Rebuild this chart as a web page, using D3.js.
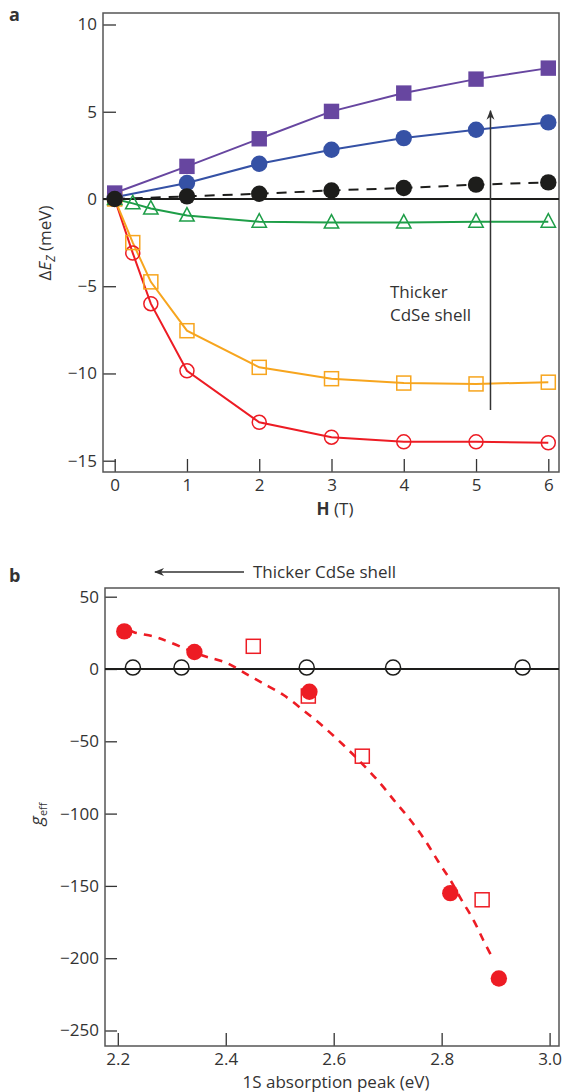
<!DOCTYPE html>
<html>
<head>
<meta charset="utf-8">
<script src="https://cdn.jsdelivr.net/npm/d3@7"></script>
<style>
  body { margin: 0; background: #fff; }
  text { font-family: "Open Sans", "Noto Sans", sans-serif; fill: #333; }
</style>
</head>
<body>
<div id="chart"></div>
<script>
// ---- panel a data: Zeeman splitting vs field
var fieldT = [0, 1, 2, 3, 4, 5, 6];
var purpleSq = [0.34, 1.87, 3.45, 5.02, 6.07, 6.87, 7.5];
var blueCirc = [0.1, 0.92, 2.02, 2.82, 3.49, 3.97, 4.39];
var blackCirc = [0, 0.15, 0.3, 0.49, 0.63, 0.82, 0.95];
var fieldFine = [0, 0.25, 0.5, 1, 2, 3, 4, 5, 6];
var greenTri = [0, -0.25, -0.55, -0.95, -1.3, -1.35, -1.35, -1.3, -1.3];
var orangeSq = [0, -2.5, -4.75, -7.55, -9.65, -10.3, -10.55, -10.6, -10.5];
var redCirc = [0, -3.1, -6.0, -9.85, -12.8, -13.65, -13.92, -13.92, -13.97];
var ticksA_x = [0, 1, 2, 3, 4, 5, 6];
var ticksA_y = [-15, -10, -5, 0, 5, 10];

// ---- panel b data: g_eff vs 1S absorption peak
var peakOpen = [2.228, 2.318, 2.550, 2.710, 2.950];
var gOpen = [1, 1, 1, 1, 1];
var peakFilled = [2.212, 2.342, 2.555, 2.816, 2.906];
var gFilled = [26, 11.8, -15.7, -155, -214];
var peakSquare = [2.451, 2.553, 2.653, 2.875];
var gSquare = [15.7, -18.7, -60.3, -159.6];
var peakFit = [2.222, 2.230, 2.268, 2.295, 2.354, 2.402, 2.441, 2.468, 2.507, 2.547, 2.581, 2.618, 2.652, 2.686, 2.714, 2.742, 2.769, 2.794, 2.816, 2.837, 2.859, 2.877, 2.893];
var gFit = [27, 25.4, 22.3, 18.7, 9.7, 4.1, -4.1, -9.7, -18, -29.5, -39.9, -52.6, -65.2, -79, -91.8, -104.4, -118.3, -133.3, -145.9, -159.8, -173.6, -187.4, -199];
var ticksB_x = [2.2, 2.4, 2.6, 2.8, 3.0];
var ticksB_y = [-250, -200, -150, -100, -50, 0, 50];

var colors = {purple: "#6746a0", blue: "#3551a5", black: "#1d1d1b", green: "#1e9e48", orange: "#f7a51e", red: "#ed1c24"};
var fs = "17px";

var svg = d3.select("#chart").append("svg")
    .attr("width", 563)
    .attr("height", 1092);

function pts(xs, ys) { return xs.map(function (d, i) { return [d, ys[i]]; }); }
function minus(d) { return d < 0 ? "\u2212" + Math.abs(d) : d; }

// ================= panel a =================
var frameA = {left: 103, right: 559, top: 13, bottom: 472};
var xA = d3.scaleLinear().domain([0, 6]).range([114.7, 548.3]);
var yA = d3.scaleLinear().domain([-15, 10]).range([460.7, 24.5]);

var gA = svg.append("g");

gA.append("g")
    .attr("transform", "translate(" + frameA.left + ",0)")
    .call(d3.axisLeft(yA).tickValues(ticksA_y).tickSize(-13).tickPadding(6).tickFormat(minus))
    .call(function (g) { g.select(".domain").remove(); });
gA.append("g")
    .attr("transform", "translate(0," + frameA.bottom + ")")
    .call(d3.axisBottom(xA).tickValues(ticksA_x).tickSize(-13).tickPadding(7).tickFormat(d3.format("d")))
    .call(function (g) { g.select(".domain").remove(); });
gA.selectAll(".tick line").attr("stroke", "#333").attr("stroke-width", 1.3);
gA.selectAll(".tick text").style("font-size", fs).attr("fill", "#333");

gA.append("rect")
    .attr("x", frameA.left).attr("y", frameA.top)
    .attr("width", frameA.right - frameA.left).attr("height", frameA.bottom - frameA.top)
    .attr("fill", "none").attr("stroke", "#555").attr("stroke-width", 1.5);

// zero line
gA.append("line")
    .attr("x1", frameA.left).attr("x2", frameA.right)
    .attr("y1", yA(0)).attr("y2", yA(0))
    .attr("stroke", "#1d1d1b").attr("stroke-width", 1.8);

var lineA = d3.line().x(function (d) { return xA(d[0]); }).y(function (d) { return yA(d[1]); });

var seriesA = [
    {xs: fieldFine, ys: redCirc, color: colors.red, mark: "circleOpen"},
    {xs: fieldFine, ys: orangeSq, color: colors.orange, mark: "squareOpen"},
    {xs: fieldFine, ys: greenTri, color: colors.green, mark: "triangleOpen"},
    {xs: fieldT, ys: blueCirc, color: colors.blue, mark: "circle"},
    {xs: fieldT, ys: purpleSq, color: colors.purple, mark: "square"},
    {xs: fieldT, ys: blackCirc, color: colors.black, mark: "circle", dashed: true}
];

seriesA.forEach(function (s) {
    gA.append("path")
        .datum(pts(s.xs, s.ys))
        .attr("d", lineA)
        .attr("fill", "none")
        .attr("stroke", s.color)
        .attr("stroke-width", 2)
        .attr("stroke-dasharray", s.dashed ? "10,8" : null);
});

function drawMarks(g, data, s, xs, ys) {
    var sel = g.append("g").selectAll("x").data(data).enter();
    if (s.mark === "circle") {
        sel.append("circle").attr("cx", function (d) { return xs(d[0]); }).attr("cy", function (d) { return ys(d[1]); })
            .attr("r", 8.2).attr("fill", s.color);
    } else if (s.mark === "circleOpen") {
        sel.append("circle").attr("cx", function (d) { return xs(d[0]); }).attr("cy", function (d) { return ys(d[1]); })
            .attr("r", s.r || 7).attr("fill", "none")
            .attr("stroke", s.color).attr("stroke-width", 1.5);
    } else if (s.mark === "square") {
        sel.append("rect").attr("x", function (d) { return xs(d[0]) - 7.7; }).attr("y", function (d) { return ys(d[1]) - 7.7; })
            .attr("width", 15.4).attr("height", 15.4).attr("fill", s.color);
    } else if (s.mark === "squareOpen") {
        sel.append("rect").attr("x", function (d) { return xs(d[0]) - 7; }).attr("y", function (d) { return ys(d[1]) - 7; })
            .attr("width", 14).attr("height", 14).attr("fill", "none")
            .attr("stroke", s.color).attr("stroke-width", 1.5);
    } else if (s.mark === "triangleOpen") {
        sel.append("path")
            .attr("transform", function (d) { return "translate(" + xs(d[0]) + "," + ys(d[1]) + ")"; })
            .attr("d", "M0,-8L7.2,5.5L-7.2,5.5Z")
            .attr("fill", "none").attr("stroke", s.color).attr("stroke-width", 1.5);
    }
}

seriesA.forEach(function (s) { drawMarks(gA, pts(s.xs, s.ys), s, xA, yA); });

// arrow "Thicker CdSe shell"
svg.append("defs").append("marker")
    .attr("id", "arrowhead").attr("viewBox", "0 0 10 10")
    .attr("refX", 9).attr("refY", 5)
    .attr("markerWidth", 10).attr("markerHeight", 10)
    .attr("markerUnits", "userSpaceOnUse")
    .attr("orient", "auto")
    .append("path").attr("d", "M0,1L10,5L0,9L3,5Z").attr("fill", "#333");

gA.append("line")
    .attr("x1", xA(5.2)).attr("x2", xA(5.2))
    .attr("y1", yA(-12.1)).attr("y2", yA(5.05))
    .attr("stroke", "#333").attr("stroke-width", 1.5)
    .attr("marker-end", "url(#arrowhead)");

gA.append("text").attr("x", 390).attr("y", 298).style("font-size", fs).text("Thicker");
gA.append("text").attr("x", 390).attr("y", 321).style("font-size", fs).text("CdSe shell");

// axis labels a
var yLabA = gA.append("text")
    .attr("transform", "translate(51,243) rotate(-90)")
    .attr("text-anchor", "middle")
    .style("font-size", fs);
yLabA.append("tspan").text("\u0394");
yLabA.append("tspan").style("font-style", "italic").text("E");
yLabA.append("tspan").style("font-style", "italic").style("font-size", "12px").attr("dy", 4).text("Z");
yLabA.append("tspan").attr("dy", -4).text(" (meV)");

var xLabA = gA.append("text").attr("x", 335).attr("y", 515)
    .attr("text-anchor", "middle").style("font-size", fs);
xLabA.append("tspan").style("font-weight", "bold").text("H");
xLabA.append("tspan").text(" (T)");

svg.append("text").attr("x", 9).attr("y", 21)
    .style("font-size", "18px").style("font-weight", "bold").attr("fill", "#1d1d1b").text("a");

// ================= panel b =================
var frameB = {left: 105, right: 559, top: 588, bottom: 1046};
var xB = d3.scaleLinear().domain([2.2, 3.0]).range([117.8, 549.6]);
var yB = d3.scaleLinear().domain([-250, 50]).range([1030.5, 596.7]);

var gB = svg.append("g");

gB.append("g")
    .attr("transform", "translate(" + frameB.left + ",0)")
    .call(d3.axisLeft(yB).tickValues(ticksB_y).tickSize(-12).tickPadding(6).tickFormat(minus))
    .call(function (g) { g.select(".domain").remove(); });
gB.append("g")
    .attr("transform", "translate(0," + frameB.bottom + ")")
    .call(d3.axisBottom(xB).tickValues(ticksB_x).tickSize(-13).tickPadding(7)
        .tickFormat(d3.format(".1f")))
    .call(function (g) { g.select(".domain").remove(); });
gB.selectAll(".tick line").attr("stroke", "#333").attr("stroke-width", 1.3);
gB.selectAll(".tick text").style("font-size", fs).attr("fill", "#333");

gB.append("rect")
    .attr("x", frameB.left).attr("y", frameB.top)
    .attr("width", frameB.right - frameB.left).attr("height", frameB.bottom - frameB.top)
    .attr("fill", "none").attr("stroke", "#555").attr("stroke-width", 1.5);

gB.append("line")
    .attr("x1", frameB.left).attr("x2", frameB.right)
    .attr("y1", yB(0)).attr("y2", yB(0))
    .attr("stroke", "#1d1d1b").attr("stroke-width", 1.8);

var lineB = d3.line().x(function (d) { return xB(d[0]); }).y(function (d) { return yB(d[1]); })
    .curve(d3.curveCatmullRom);

gB.append("path")
    .datum(pts(peakFit, gFit))
    .attr("d", lineB)
    .attr("fill", "none")
    .attr("stroke", colors.red)
    .attr("stroke-width", 2.6)
    .attr("stroke-dasharray", "8,7");

drawMarks(gB, pts(peakOpen, gOpen), {mark: "circleOpen", color: "#1d1d1b", r: 7.5}, xB, yB);
drawMarks(gB, pts(peakSquare, gSquare), {mark: "squareOpen", color: colors.red}, xB, yB);
drawMarks(gB, pts(peakFilled, gFilled), {mark: "circle", color: colors.red}, xB, yB);

// top arrow
gB.append("line")
    .attr("x1", 244).attr("x2", 155)
    .attr("y1", 572).attr("y2", 572)
    .attr("stroke", "#333").attr("stroke-width", 1.3)
    .attr("marker-end", "url(#arrowhead)");
gB.append("text").attr("x", 253).attr("y", 578).style("font-size", fs).text("Thicker CdSe shell");

var yLabB = gB.append("text")
    .attr("transform", "translate(43,814) rotate(-90)")
    .attr("text-anchor", "middle")
    .style("font-size", "18px");
yLabB.append("tspan").style("font-style", "italic").text("g");
yLabB.append("tspan").style("font-size", "11px").attr("dy", 4).text("eff");

gB.append("text").attr("x", 336).attr("y", 1088)
    .attr("text-anchor", "middle").style("font-size", fs)
    .text("1S absorption peak (eV)");

svg.append("text").attr("x", 9).attr("y", 582)
    .style("font-size", "18px").style("font-weight", "bold").attr("fill", "#1d1d1b").text("b");
</script>
</body>
</html>
